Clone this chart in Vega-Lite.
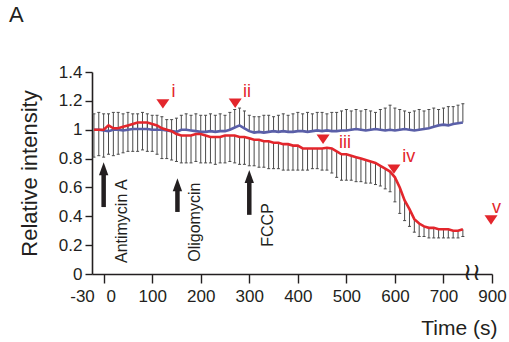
{
  "$schema": "https://vega.github.io/schema/vega-lite/v6.json",
  "width": 400,
  "height": 202,
  "autosize": {"type": "none"},
  "padding": {"left": 92, "top": 72, "right": 17, "bottom": 68},
  "background": "white",
  "config": {
    "font": "Liberation Sans",
    "view": {"stroke": null},
    "axis": {"grid": false, "domainColor": "#231f20", "tickColor": "#231f20", "labelColor": "#231f20", "titleColor": "#231f20", "domainWidth": 1.6, "tickWidth": 1.4, "labelFontSize": 17, "titleFontWeight": "normal", "titleFontSize": 21, "labelOverlap": false},
    "axisY": {"labelOverlap": false}
  },
  "title": {"text": "A", "anchor": "start", "frame": "group", "dx": -83, "offset": 19, "fontSize": 22, "fontWeight": "normal", "baseline": "alphabetic", "color": "#231f20"},
  "datasets": {
    "ts": [
      {"t":-20,"s":"blue","m":1.00,"b":1.11},{"t":-10,"s":"blue","m":1.00,"b":1.12},{"t":0,"s":"blue","m":0.995,"b":1.11},{"t":10,"s":"blue","m":0.99,"b":1.11},{"t":20,"s":"blue","m":1.00,"b":1.12},{"t":30,"s":"blue","m":1.00,"b":1.12},{"t":40,"s":"blue","m":0.995,"b":1.11},{"t":50,"s":"blue","m":1.00,"b":1.12},{"t":60,"s":"blue","m":1.005,"b":1.11},{"t":70,"s":"blue","m":1.005,"b":1.11},{"t":80,"s":"blue","m":1.005,"b":1.12},{"t":90,"s":"blue","m":1.005,"b":1.11},{"t":100,"s":"blue","m":1.00,"b":1.10},{"t":110,"s":"blue","m":1.00,"b":1.10},{"t":120,"s":"blue","m":1.00,"b":1.09},{"t":130,"s":"blue","m":0.995,"b":1.07},{"t":140,"s":"blue","m":0.99,"b":1.07},{"t":150,"s":"blue","m":0.985,"b":1.08},{"t":160,"s":"blue","m":1.00,"b":1.10},{"t":170,"s":"blue","m":1.00,"b":1.11},{"t":180,"s":"blue","m":0.995,"b":1.10},{"t":190,"s":"blue","m":0.99,"b":1.11},{"t":200,"s":"blue","m":0.985,"b":1.10},{"t":210,"s":"blue","m":0.985,"b":1.10},{"t":220,"s":"blue","m":0.99,"b":1.11},{"t":230,"s":"blue","m":0.985,"b":1.10},{"t":240,"s":"blue","m":0.99,"b":1.11},{"t":250,"s":"blue","m":0.99,"b":1.10},{"t":260,"s":"blue","m":1.00,"b":1.12},{"t":270,"s":"blue","m":1.015,"b":1.14},{"t":280,"s":"blue","m":1.03,"b":1.15},{"t":290,"s":"blue","m":1.01,"b":1.13},{"t":300,"s":"blue","m":0.99,"b":1.10},{"t":310,"s":"blue","m":0.98,"b":1.09},{"t":320,"s":"blue","m":0.985,"b":1.09},{"t":330,"s":"blue","m":0.98,"b":1.10},{"t":340,"s":"blue","m":0.985,"b":1.10},{"t":350,"s":"blue","m":0.99,"b":1.09},{"t":360,"s":"blue","m":0.985,"b":1.10},{"t":370,"s":"blue","m":0.99,"b":1.11},{"t":380,"s":"blue","m":0.985,"b":1.10},{"t":390,"s":"blue","m":0.985,"b":1.11},{"t":400,"s":"blue","m":0.99,"b":1.12},{"t":410,"s":"blue","m":0.99,"b":1.11},{"t":420,"s":"blue","m":0.985,"b":1.12},{"t":430,"s":"blue","m":0.99,"b":1.11},{"t":440,"s":"blue","m":0.995,"b":1.12},{"t":450,"s":"blue","m":0.99,"b":1.12},{"t":460,"s":"blue","m":0.995,"b":1.11},{"t":470,"s":"blue","m":0.99,"b":1.12},{"t":480,"s":"blue","m":0.99,"b":1.12},{"t":490,"s":"blue","m":0.995,"b":1.13},{"t":500,"s":"blue","m":0.995,"b":1.14},{"t":510,"s":"blue","m":1.00,"b":1.13},{"t":520,"s":"blue","m":1.005,"b":1.14},{"t":530,"s":"blue","m":1.00,"b":1.13},{"t":540,"s":"blue","m":0.995,"b":1.14},{"t":550,"s":"blue","m":1.00,"b":1.13},{"t":560,"s":"blue","m":1.005,"b":1.12},{"t":570,"s":"blue","m":1.00,"b":1.14},{"t":580,"s":"blue","m":0.995,"b":1.15},{"t":590,"s":"blue","m":1.00,"b":1.17},{"t":600,"s":"blue","m":0.995,"b":1.15},{"t":610,"s":"blue","m":1.00,"b":1.14},{"t":620,"s":"blue","m":1.005,"b":1.13},{"t":630,"s":"blue","m":1.00,"b":1.12},{"t":640,"s":"blue","m":0.995,"b":1.13},{"t":650,"s":"blue","m":1.00,"b":1.14},{"t":660,"s":"blue","m":1.005,"b":1.13},{"t":670,"s":"blue","m":1.01,"b":1.14},{"t":680,"s":"blue","m":1.02,"b":1.15},{"t":690,"s":"blue","m":1.03,"b":1.14},{"t":700,"s":"blue","m":1.035,"b":1.15},{"t":710,"s":"blue","m":1.03,"b":1.16},{"t":720,"s":"blue","m":1.04,"b":1.16},{"t":730,"s":"blue","m":1.045,"b":1.17},{"t":740,"s":"blue","m":1.05,"b":1.18},
      {"t":-20,"s":"red","m":1.00,"b":0.81},{"t":-10,"s":"red","m":1.00,"b":0.82},{"t":0,"s":"red","m":1.00,"b":0.81},{"t":10,"s":"red","m":1.03,"b":0.83},{"t":20,"s":"red","m":1.01,"b":0.82},{"t":30,"s":"red","m":1.01,"b":0.83},{"t":40,"s":"red","m":1.02,"b":0.84},{"t":50,"s":"red","m":1.03,"b":0.85},{"t":60,"s":"red","m":1.04,"b":0.85},{"t":70,"s":"red","m":1.05,"b":0.85},{"t":80,"s":"red","m":1.05,"b":0.86},{"t":90,"s":"red","m":1.05,"b":0.85},{"t":100,"s":"red","m":1.04,"b":0.85},{"t":110,"s":"red","m":1.03,"b":0.83},{"t":120,"s":"red","m":1.01,"b":0.80},{"t":130,"s":"red","m":1.00,"b":0.80},{"t":140,"s":"red","m":0.99,"b":0.79},{"t":150,"s":"red","m":0.97,"b":0.78},{"t":160,"s":"red","m":0.96,"b":0.77},{"t":170,"s":"red","m":0.96,"b":0.77},{"t":180,"s":"red","m":0.96,"b":0.77},{"t":190,"s":"red","m":0.97,"b":0.78},{"t":200,"s":"red","m":0.97,"b":0.77},{"t":210,"s":"red","m":0.96,"b":0.77},{"t":220,"s":"red","m":0.95,"b":0.77},{"t":230,"s":"red","m":0.95,"b":0.76},{"t":240,"s":"red","m":0.95,"b":0.77},{"t":250,"s":"red","m":0.96,"b":0.77},{"t":260,"s":"red","m":0.96,"b":0.78},{"t":270,"s":"red","m":0.96,"b":0.77},{"t":280,"s":"red","m":0.95,"b":0.76},{"t":290,"s":"red","m":0.95,"b":0.76},{"t":300,"s":"red","m":0.94,"b":0.75},{"t":310,"s":"red","m":0.93,"b":0.75},{"t":320,"s":"red","m":0.93,"b":0.74},{"t":330,"s":"red","m":0.92,"b":0.74},{"t":340,"s":"red","m":0.92,"b":0.73},{"t":350,"s":"red","m":0.91,"b":0.73},{"t":360,"s":"red","m":0.91,"b":0.73},{"t":370,"s":"red","m":0.90,"b":0.72},{"t":380,"s":"red","m":0.90,"b":0.72},{"t":390,"s":"red","m":0.89,"b":0.72},{"t":400,"s":"red","m":0.89,"b":0.72},{"t":410,"s":"red","m":0.87,"b":0.72},{"t":420,"s":"red","m":0.87,"b":0.72},{"t":430,"s":"red","m":0.87,"b":0.73},{"t":440,"s":"red","m":0.87,"b":0.73},{"t":450,"s":"red","m":0.87,"b":0.72},{"t":460,"s":"red","m":0.875,"b":0.72},{"t":470,"s":"red","m":0.87,"b":0.70},{"t":480,"s":"red","m":0.85,"b":0.67},{"t":490,"s":"red","m":0.83,"b":0.65},{"t":500,"s":"red","m":0.83,"b":0.65},{"t":510,"s":"red","m":0.82,"b":0.65},{"t":520,"s":"red","m":0.81,"b":0.64},{"t":530,"s":"red","m":0.80,"b":0.64},{"t":540,"s":"red","m":0.79,"b":0.63},{"t":550,"s":"red","m":0.78,"b":0.63},{"t":560,"s":"red","m":0.77,"b":0.62},{"t":570,"s":"red","m":0.75,"b":0.61},{"t":580,"s":"red","m":0.73,"b":0.59},{"t":590,"s":"red","m":0.71,"b":0.57},{"t":600,"s":"red","m":0.67,"b":0.50},{"t":610,"s":"red","m":0.60,"b":0.42},{"t":620,"s":"red","m":0.51,"b":0.37},{"t":630,"s":"red","m":0.45,"b":0.33},{"t":640,"s":"red","m":0.38,"b":0.29},{"t":650,"s":"red","m":0.35,"b":0.26},{"t":660,"s":"red","m":0.33,"b":0.26},{"t":670,"s":"red","m":0.32,"b":0.25},{"t":680,"s":"red","m":0.32,"b":0.25},{"t":690,"s":"red","m":0.31,"b":0.25},{"t":700,"s":"red","m":0.31,"b":0.25},{"t":710,"s":"red","m":0.31,"b":0.25},{"t":720,"s":"red","m":0.30,"b":0.25},{"t":730,"s":"red","m":0.30,"b":0.25},{"t":740,"s":"red","m":0.31,"b":0.26}
    ],
    "tri": [
      {"t":122,"v":1.18},{"t":271,"v":1.185},{"t":452,"v":0.935},{"t":598,"v":0.728},{"t":798,"v":0.375}
    ],
    "lab": [
      {"t":140,"v":1.225,"label":"i"},{"t":287,"v":1.225,"label":"ii"},{"t":485,"v":0.872,"label":"iii"},{"t":615,"v":0.775,"label":"iv"},{"t":800,"v":0.422,"label":"v"}
    ],
    "arrows": [
      {"t":0,"base":0.464,"tip":0.775,"lt":37,"lv":0.076,"name":"Antimycin A"},
      {"t":152,"base":0.43,"tip":0.664,"lt":188,"lv":0.085,"name":"Oligomycin"},
      {"t":300,"base":0.41,"tip":0.72,"lt":339,"lv":0.189,"name":"FCCP"}
    ],
    "brk": [{"t":759,"v":0.01,"sym":"≀≀"}]
  },
  "encoding": {
    "x": {"field": "t", "type": "quantitative", "scale": {"domain": [-24, 800], "nice": false, "zero": false},
      "axis": {"title": "Time (s)", "values": [-24, 0, 100, 200, 300, 400, 500, 600, 700, 800],
        "labelExpr": "datum.value == -24 ? '-30' : datum.value == 800 ? '900' : datum.label",
        "labelOffset": {"condition": [{"test": "datum.value == -24", "value": -10}, {"test": "datum.value == 0", "value": 7}], "value": 0},
        "tickOpacity": {"condition": {"test": "datum.value == -24", "value": 0}, "value": 1},
        "tickSize": 9, "labelPadding": 5, "labelFlush": false, "labelOverlap": false,
        "titleX": 405, "titleY": 60, "titleAlign": "right", "titleAnchor": "end", "titleBaseline": "alphabetic"}},
    "y": {"field": "m", "type": "quantitative", "scale": {"domain": [0, 1.4], "nice": false, "zero": false},
      "axis": {"title": "Relative intensity", "values": [0, 0.2, 0.4, 0.6, 0.8, 1, 1.2, 1.4], "labelExpr": "format(datum.value, '~g')", "labelOverlap": false, "labelFlush": false,
        "tickSize": 7, "labelPadding": 3, "titleAngle": 270, "titleX": -63, "titleY": 101, "titleAlign": "center", "titleBaseline": "middle", "titleFontSize": 22}}
  },
  "layer": [
    {
      "data": {"name": "ts"},
      "mark": {"type": "rule", "color": "#4a4a4a", "strokeWidth": 1},
      "encoding": {
        "y2": {"field": "b"}
      }
    },
    {
      "data": {"name": "ts"},
      "mark": {"type": "point", "shape": "M-1,0L1,0", "filled": false, "strokeWidth": 1, "color": "#4a4a4a", "opacity": 1, "size": 9},
      "encoding": {
        "y": {"field": "b", "type": "quantitative"}
      }
    },
    {
      "data": {"name": "ts"},
      "transform": [{"filter": "datum.s == 'blue'"}],
      "mark": {"type": "line", "color": "#5a5fa8", "strokeWidth": 2.6}
    },
    {
      "data": {"name": "ts"},
      "transform": [{"filter": "datum.s == 'red'"}],
      "mark": {"type": "line", "color": "#e3262c", "strokeWidth": 2.6}
    },
    {
      "data": {"name": "arrows"},
      "mark": {"type": "rule", "color": "#231f20", "strokeWidth": 4.5, "y2Offset": 8},
      "encoding": {
        "y": {"field": "base", "type": "quantitative"},
        "y2": {"field": "tip"}
      }
    },
    {
      "data": {"name": "arrows"},
      "mark": {"type": "point", "shape": "M0,0L0.72,2L-0.72,2Z", "filled": true, "color": "#231f20", "opacity": 1, "size": 169},
      "encoding": {
        "y": {"field": "tip", "type": "quantitative"}
      }
    },
    {
      "data": {"name": "arrows"},
      "mark": {"type": "text", "angle": 270, "align": "left", "baseline": "middle", "fontSize": 16, "color": "#231f20"},
      "encoding": {
        "x": {"field": "lt", "type": "quantitative"},
        "y": {"field": "lv", "type": "quantitative"},
        "text": {"field": "name"}
      }
    },
    {
      "data": {"name": "tri"},
      "mark": {"type": "point", "shape": "M-1,-0.7L1,-0.7L0,0.75Z", "filled": true, "color": "#e3262c", "opacity": 1, "size": 169},
      "encoding": {
        "y": {"field": "v", "type": "quantitative"}
      }
    },
    {
      "data": {"name": "lab"},
      "mark": {"type": "text", "align": "left", "baseline": "alphabetic", "fontSize": 18, "color": "#e3262c"},
      "encoding": {
        "y": {"field": "v", "type": "quantitative"},
        "text": {"field": "label"}
      }
    },
    {
      "data": {"name": "brk"},
      "mark": {"type": "text", "align": "center", "baseline": "middle", "fontSize": 24, "font": "DejaVu Sans", "color": "#231f20"},
      "encoding": {
        "y": {"field": "v", "type": "quantitative"},
        "text": {"field": "sym"}
      }
    }
  ]
}
